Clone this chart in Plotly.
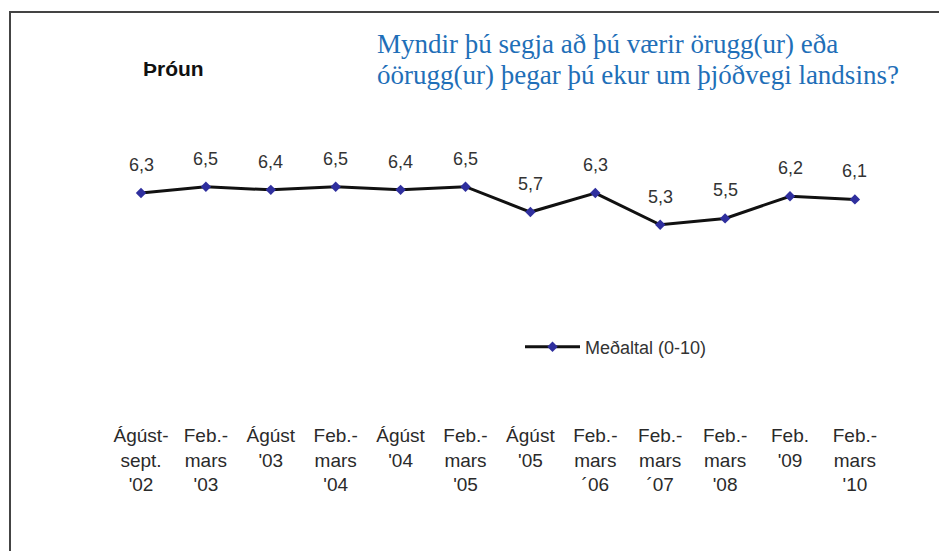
import plotly.graph_objects as go

# ---- data ----
periods = ["Ágúst-<br>sept.<br>'02", "Feb.-<br>mars<br>'03", "Ágúst<br>'03", "Feb.-<br>mars<br>'04",
           "Ágúst<br>'04", "Feb.-<br>mars<br>'05", "Ágúst<br>'05", "Feb.-<br>mars<br>´06",
           "Feb.-<br>mars<br>´07", "Feb.-<br>mars<br>'08", "Feb.<br>'09", "Feb.-<br>mars<br>'10"]
values = [6.3, 6.5, 6.4, 6.5, 6.4, 6.5, 5.7, 6.3, 5.3, 5.5, 6.2, 6.1]
series_name = "Meðaltal (0-10)"
chart_label = "Þróun"
question_lines = ["Myndir þú segja að þú værir örugg(ur) eða",
                  "óörugg(ur) þegar þú ekur um þjóðvegi landsins?"]

# ---- layout geometry (pixels, page offset compensated) ----
OFF = 8  # page body margin
W, HT = 947, 551
B = 137
H = HT - B
px_per_unit = 31.7
ref_val, ref_px = 6.5, 186.7 - OFF
y_top = ref_val + ref_px / px_per_unit
y_bot = ref_val - (H - ref_px) / px_per_unit
x0_px, step_px = 141.0 - OFF, 64.9
x_left = -x0_px / step_px
x_right = (W - x0_px) / step_px

font_sans = "Liberation Sans, Arial, sans-serif"


def px(xp):
    return (xp - OFF) / W


def py(yp):
    return 1 - (yp - OFF) / H


fig = go.Figure()
fig.add_trace(go.Scatter(
    x=list(range(len(values))), y=values, name=series_name,
    mode="lines+markers",
    line=dict(color="#111111", width=3),
    marker=dict(symbol="diamond", size=8, color="#2f2f9e", line=dict(width=0)),
    showlegend=True,
))

for i, v in enumerate(values):
    fig.add_annotation(x=i, y=v, text=f"{v:.1f}".replace(".", ","), showarrow=False,
                       yshift=28, yanchor="middle", xanchor="center",
                       font=dict(family=font_sans, size=18, color="#333333"))

fig.add_annotation(x=px(173), y=py(69), xref="paper", yref="paper", text=f"<b>{chart_label}</b>",
                   showarrow=False, xanchor="center", yanchor="middle",
                   font=dict(family=font_sans, size=21, color="#111111"))
for k, line in enumerate(question_lines):
    fig.add_annotation(x=px(375), y=py(44 + 31 * k), xref="paper", yref="paper", text=line,
                       showarrow=False, xanchor="left", yanchor="middle", align="left",
                       font=dict(family="Liberation Serif, Times New Roman, serif", size=27,
                                 color="#1f6fb8"))

# border frame
fig.add_shape(type="rect", xref="paper", yref="paper",
              x0=px(10), x1=px(W + 40), y0=py(HT + 40), y1=py(12),
              line=dict(color="#444444", width=2), fillcolor="rgba(0,0,0,0)", layer="above")

fig.update_layout(
    width=W, height=HT,
    margin=dict(l=0, r=0, t=0, b=B),
    paper_bgcolor="white", plot_bgcolor="white",
    xaxis=dict(range=[x_left, x_right], tickmode="array", tickvals=list(range(len(periods))),
               ticktext=periods, showgrid=False, zeroline=False, showline=False, ticks="",
               tickfont=dict(family=font_sans, size=19, color="#2a2a2a")),
    yaxis=dict(range=[y_bot, y_top], showgrid=False, zeroline=False, showline=False,
               showticklabels=False, ticks=""),
    legend=dict(x=px(520), y=py(347), xanchor="left", yanchor="middle",
                bgcolor="rgba(0,0,0,0)", borderwidth=0, itemwidth=55,
                font=dict(family=font_sans, size=18, color="#333333")),
    showlegend=True,
)

fig.write_html("out.html")
